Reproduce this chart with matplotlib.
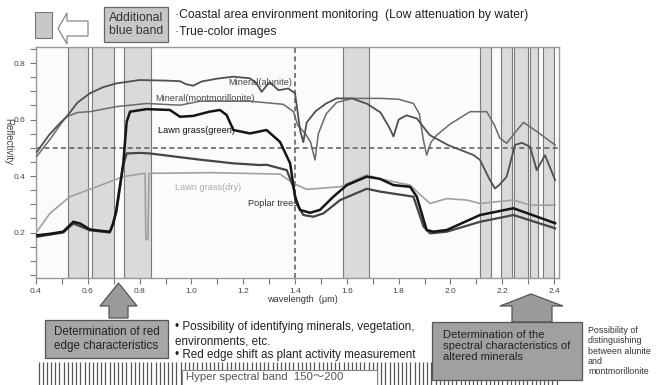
import numpy as np
import matplotlib
matplotlib.use("Agg")
import matplotlib.pyplot as plt
from matplotlib.patches import Rectangle, Polygon
from matplotlib.transforms import blended_transform_factory

plt.rcParams['font.family'] = ['Liberation Sans', 'Noto Sans CJK JP', 'DejaVu Sans']

# spectra (wavelength um, reflectivity)
alunite_wl = [0.403, 0.45, 0.49, 0.518, 0.56, 0.608, 0.66, 0.71, 0.80, 0.90, 0.956, 0.98, 1.007,
              1.04, 1.10, 1.162, 1.226, 1.25, 1.271, 1.29, 1.303, 1.336, 1.374, 1.40, 1.42, 1.432,
              1.445, 1.48, 1.52, 1.56, 1.62, 1.68, 1.73, 1.765, 1.78, 1.80, 1.83, 1.87, 1.92, 1.99,
              2.09, 2.114, 2.15, 2.172, 2.19, 2.217, 2.249, 2.275, 2.307, 2.333, 2.365, 2.404]
alunite_r = [0.485, 0.545, 0.585, 0.61, 0.66, 0.693, 0.715, 0.728, 0.74, 0.738, 0.736, 0.725, 0.72,
             0.735, 0.745, 0.752, 0.746, 0.73, 0.698, 0.72, 0.732, 0.704, 0.71, 0.693, 0.56, 0.52,
             0.59, 0.63, 0.657, 0.675, 0.675, 0.655, 0.625, 0.57, 0.54, 0.60, 0.615, 0.604, 0.545, 0.51,
             0.474, 0.457, 0.39, 0.356, 0.37, 0.398, 0.51, 0.518, 0.504, 0.421, 0.474, 0.386]

mont_wl = [0.403, 0.454, 0.50, 0.518, 0.56, 0.608, 0.711, 0.827, 0.956, 1.033, 1.226, 1.355, 1.394,
           1.41, 1.44, 1.46, 1.477, 1.49, 1.52, 1.56, 1.62, 1.73, 1.80, 1.857, 1.88, 1.895, 1.908,
           1.925, 1.947, 2.0, 2.076, 2.14, 2.17, 2.19, 2.217, 2.25, 2.282, 2.33, 2.404]
mont_r = [0.47, 0.53, 0.59, 0.61, 0.625, 0.628, 0.646, 0.657, 0.651, 0.665, 0.665, 0.654, 0.628,
          0.58, 0.55, 0.52, 0.457, 0.55, 0.62, 0.66, 0.675, 0.675, 0.672, 0.657, 0.62, 0.53, 0.474,
          0.52, 0.545, 0.585, 0.628, 0.628, 0.58, 0.535, 0.516, 0.555, 0.59, 0.56, 0.51]

green_wl = [0.403, 0.45, 0.505, 0.544, 0.57, 0.608, 0.65, 0.685, 0.698, 0.71, 0.737, 0.75, 0.763,
            0.827, 0.917, 0.956, 1.007, 1.07, 1.11, 1.136, 1.162, 1.226, 1.29, 1.342, 1.381, 1.40,
            1.419, 1.458, 1.496, 1.548, 1.60, 1.677, 1.728, 1.78, 1.844, 1.87, 1.908, 1.934, 1.986,
            2.114, 2.243, 2.404]
green_r = [0.19, 0.195, 0.203, 0.238, 0.232, 0.211, 0.206, 0.203, 0.23, 0.28, 0.445, 0.592, 0.628,
           0.637, 0.634, 0.61, 0.613, 0.628, 0.634, 0.616, 0.563, 0.551, 0.563, 0.521, 0.445, 0.327,
           0.28, 0.27, 0.28, 0.327, 0.368, 0.398, 0.39, 0.368, 0.362, 0.327, 0.209, 0.203, 0.209,
           0.262, 0.286, 0.233]

poplar_wl = [0.403, 0.505, 0.544, 0.608, 0.685, 0.71, 0.737, 0.75, 0.80, 0.84, 1.033, 1.162, 1.265,
             1.29, 1.368, 1.394, 1.406, 1.432, 1.471, 1.51, 1.574, 1.677, 1.728, 1.857, 1.896,
             1.921, 1.986, 2.114, 2.243, 2.404]
poplar_r = [0.185, 0.2, 0.232, 0.208, 0.2, 0.27, 0.44, 0.48, 0.482, 0.48, 0.458, 0.445, 0.439,
            0.44, 0.421, 0.36, 0.303, 0.262, 0.256, 0.268, 0.315, 0.355, 0.345, 0.327, 0.221,
            0.197, 0.203, 0.238, 0.262, 0.215]

dry_wl = [0.403, 0.454, 0.531, 0.634, 0.737, 0.821, 0.824, 0.832, 0.836, 0.892, 1.07, 1.342, 1.394,
          1.445, 1.574, 1.677, 1.728, 1.844, 1.87, 1.921, 1.986, 2.063, 2.114, 2.243, 2.307, 2.404]
dry_r = [0.203, 0.268, 0.327, 0.362, 0.398, 0.41, 0.175, 0.175, 0.41, 0.41, 0.412, 0.407, 0.374,
         0.353, 0.362, 0.404, 0.39, 0.368, 0.345, 0.303, 0.32, 0.315, 0.303, 0.315, 0.297, 0.297]

# multispectral band ranges (um)
band_lo = [0.522, 0.615, 0.741, 1.586, 2.114, 2.196, 2.247, 2.307, 2.359]
band_hi = [0.602, 0.702, 0.843, 1.687, 2.157, 2.237, 2.300, 2.339, 2.400]

hyper_band_count = 125

W, H = 656, 385
fig = plt.figure(figsize=(W / 100, H / 100), dpi=100)


def fx(px):
    return px / W


def fy(py):
    return 1 - py / H


ax = fig.add_axes([fx(36), fy(278), fx(559) - fx(36), fy(47) - fy(278)])
ax.set_facecolor('#fbfbfb')
ax.set_xlim(0.4, 2.419)
ax.set_ylim(0.039, 0.857)

for lo, hi in zip(band_lo, band_hi):
    ax.axvspan(lo, hi, facecolor='#dadada', edgecolor='#7a7a7a', lw=0.8, zorder=0)

ax.axhline(0.5, color='#666666', lw=1.2, ls=(0, (3, 2)), zorder=1)
ax.axvline(1.4, color='#666666', lw=1.2, ls=(0, (3, 2)), zorder=1)

ax.plot(dry_wl, dry_r, color='#a0a0a0', lw=1.2, zorder=3)
ax.plot(mont_wl, mont_r, color='#6a6a6a', lw=1.1, zorder=3)
ax.plot(alunite_wl, alunite_r, color='#505050', lw=1.3, zorder=3)
ax.plot(poplar_wl, poplar_r, color='#454545', lw=1.6, zorder=4)
ax.plot(green_wl, green_r, color='#151515', lw=1.8, zorder=5)

lab = dict(fontsize=6.6, zorder=6)
ax.text(1.141, 0.733, 'Mineral(alunite)', color='#444444', va='center', **lab)
ax.text(0.859, 0.673, 'Mineral(montmorillonite)', color='#444444', va='center', **lab)
ax.text(0.871, 0.563, 'Lawn grass(green)', color='#111111', va='center', **lab)
ax.text(0.937, 0.361, 'Lawn grass(dry)', color='#aaaaaa', va='center', **lab)
ax.text(1.219, 0.304, 'Poplar trees', color='#333333', va='center', **lab)

ax.set_xticks(np.arange(0.4, 2.41, 0.2))
ax.set_xticks(np.arange(0.4, 2.41, 0.1), minor=True)
ax.set_xticklabels(['%.1f' % v for v in np.arange(0.4, 2.41, 0.2)])
ax.set_yticks([0.2, 0.4, 0.6, 0.8])
ax.set_yticks(np.arange(0.05, 0.851, 0.05), minor=True)
ax.tick_params(which='both', direction='out', color='#777777', labelsize=6,
               labelcolor='#444444', width=0.8)
ax.tick_params(which='major', length=4)
ax.tick_params(which='minor', length=4)
for s in ax.spines.values():
    s.set_color('#999999')
    s.set_linewidth(1)

ax.text(-0.054, 0.59, 'Reflectivity', rotation=270, transform=ax.transAxes,
        fontsize=7, color='#444444', ha='center', va='center')
ax.text(1.427, -0.095, 'wavelength  (\u03bcm)', transform=ax.get_xaxis_transform(),
        fontsize=6.6, color='#333333', ha='center', va='center')

# ---- top annotations
fig.patches.append(Rectangle((fx(35), fy(38)), fx(52) - fx(35), fy(12) - fy(38),
                             transform=fig.transFigure, facecolor='#c8c8c8', edgecolor='#777777', lw=0.8))
arrow_l = [(58, 28.5), (67, 13), (67, 21), (88, 21), (88, 36), (67, 36), (67, 44)]
fig.patches.append(Polygon([(fx(a), fy(b)) for a, b in arrow_l], closed=True,
                           transform=fig.transFigure, facecolor='white', edgecolor='#888888', lw=0.9))
fig.patches.append(Rectangle((fx(104), fy(42)), fx(168) - fx(104), fy(7) - fy(42),
                             transform=fig.transFigure, facecolor='#c8c8c8', edgecolor='#666666', lw=0.9))
fig.text(fx(136), fy(24.5), 'Additional\nblue band', ha='center', va='center',
         fontsize=8.8, color='#333333', linespacing=1.05)
fig.text(fx(175), fy(15), '\u00b7Coastal area environment monitoring  (Low attenuation by water)',
         fontsize=8.7, color='#222222', va='center')
fig.text(fx(175), fy(32), '\u00b7True-color images', fontsize=8.7, color='#222222', va='center')

# ---- bottom annotations
arrow_u1 = [(118.5, 283), (137, 306), (128, 306), (128, 318), (109, 318), (109, 306), (100, 306)]
fig.patches.append(Polygon([(fx(a), fy(b)) for a, b in arrow_u1], closed=True,
                           transform=fig.transFigure, facecolor='#9a9a9a', edgecolor='#555555', lw=0.9))
fig.patches.append(Rectangle((fx(45), fy(358)), fx(168) - fx(45), fy(320) - fy(358),
                             transform=fig.transFigure, facecolor='#a6a6a6', edgecolor='#555555', lw=0.9))
fig.text(fx(106.5), fy(339), 'Determination of red\nedge characteristics', ha='center', va='center',
         fontsize=8.4, color='#222222', linespacing=1.25)
fig.text(fx(175), fy(327), '\u2022 Possibility of identifying minerals, vegetation,',
         fontsize=8.4, color='#222222', va='center')
fig.text(fx(175), fy(341), 'environments, etc.', fontsize=8.4, color='#222222', va='center')
fig.text(fx(175), fy(355), '\u2022 Red edge shift as plant activity measurement',
         fontsize=8.4, color='#222222', va='center')

# hyperspectral band stripes
tr = blended_transform_factory(ax.transData, fig.transFigure)
stripe_x = np.linspace(0.41, 2.41, hyper_band_count)
ax.vlines(stripe_x, fy(385), fy(362), transform=tr, colors='#555555', lw=0.9, clip_on=False)
fig.patches.append(Rectangle((fx(182), fy(386)), fx(377) - fx(182), fy(370) - fy(386),
                             transform=fig.transFigure, facecolor='white', edgecolor='#888888',
                             lw=0.8, zorder=5))
fig.text(fx(186), fy(377.5), 'Hyper spectral band  150\uff5e200', fontsize=8.2, color='#555555',
         va='center', zorder=6)

arrow_u2 = [(531, 294), (563, 306), (552, 306), (552, 322), (512, 322), (512, 306), (500, 306)]
fig.patches.append(Polygon([(fx(a), fy(b)) for a, b in arrow_u2], closed=True,
                           transform=fig.transFigure, facecolor='#9a9a9a', edgecolor='#555555',
                           lw=0.9, zorder=6))
fig.patches.append(Rectangle((fx(432), fy(380)), fx(582) - fx(432), fy(322) - fy(380),
                             transform=fig.transFigure, facecolor='#a0a0a0', edgecolor='#555555',
                             lw=0.9, zorder=6))
fig.text(fx(443), fy(346), 'Determination of the\nspectral characteristics of\naltered minerals',
         fontsize=8.1, color='#222222', va='center', linespacing=1.1, zorder=7)
fig.text(fx(588), fy(351), 'Possibility of\ndistinguishing\nbetween alunite\nand\nmontmorillonite',
         fontsize=6.4, color='#333333', va='center', linespacing=1.2)

fig.savefig('out.png', dpi=100)
